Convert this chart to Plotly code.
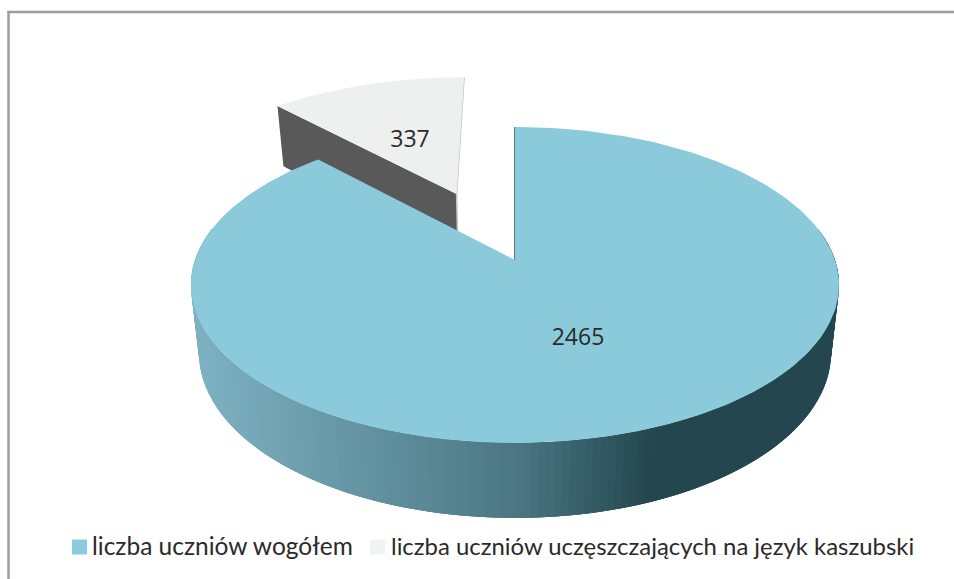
import numpy as np
import plotly.graph_objects as go

# Data
categories = ["liczba uczniów wogółem", "liczba uczniów uczęszczających na język kaszubski"]
values = [2465, 337]
value_labels = ["2465", "337"]

# Styles
TOP_BLUE = "#8ACADB"
LEGEND_BLUE = "#8ACBDD"
TOP_LIGHT = "#EEF0F0"
LEGEND_LIGHT = "#F1F2F4"
CUT_DARK = "#595959"
RIM_DARK = "#24474F"
FRAME = "#9D9D9F"
TEXT = "#2B2A29"

# 3D pie projection (perspective onto the page, in page pixels)
CX, CY = 515.0, 260.0
SX, SY = 320.0, 154.0
K = 0.158
DEPTH = 67.0
BOTTOM_SCALE = 0.975
EXPLODE = 0.50
EXPLODE_TILT = np.radians(-1.4)


def project(u, v, lower=False):
    u, v = np.asarray(u, float), np.asarray(v, float)
    w = 1 + K * v
    s = BOTTOM_SCALE if lower else 1.0
    x = CX + s * SX * u / w
    y = CY - s * SY * v / w + (DEPTH / w if lower else 0.0)
    return x, y


def lerp_color(x):
    stops_x = [200, 350, 520, 655]
    stops = np.array([[0x7D, 0xB1, 0xC1], [0x66, 0x96, 0xA5], [0x4B, 0x77, 0x83], [0x24, 0x47, 0x4F]])
    rgb = [int(round(np.interp(x, stops_x, stops[:, i]))) for i in range(3)]
    return "rgb({},{},{})".format(*rgb)


total = sum(values)
blue_sweep = 2 * np.pi * values[0] / total
small_sweep = 2 * np.pi * values[1] / total

fig = go.Figure()


def poly(xs, ys, color, line=0.0):
    fig.add_trace(go.Scatter(
        x=list(xs), y=list(ys), mode="lines", fill="toself", fillcolor=color,
        line=dict(color=color, width=line), hoverinfo="skip", showlegend=False))


# Exploded small slice
mid = blue_sweep + small_sweep / 2 + EXPLODE_TILT
du, dv = EXPLODE * np.sin(mid), EXPLODE * np.cos(mid)
a_left, a_right = blue_sweep, 2 * np.pi
lc_u, lc_v = du + np.sin(a_left), dv + np.cos(a_left)
rc_u, rc_v = du + np.sin(a_right), dv + np.cos(a_right)

# cut face of the small slice
xa, ya = project([lc_u, du], [lc_v, dv])
xb, yb = project([du, lc_u], [dv, lc_v], lower=True)
poly(np.r_[xa, xb], np.r_[ya, yb], CUT_DARK)

# right edge of the small slice
xr, yr = project([rc_u, du], [rc_v, dv])
xrl, yrl = project([du], [dv], lower=True)
fig.add_trace(go.Scatter(x=np.r_[xr, xrl], y=np.r_[yr, yrl], mode="lines",
                         line=dict(color="#C4C6C6", width=1.5), hoverinfo="skip", showlegend=False))

# top of the small slice
th = np.linspace(a_left, a_right, 60)
xt, yt = project(np.r_[du, du + np.sin(th)], np.r_[dv, dv + np.cos(th)])
poly(xt, yt, TOP_LIGHT)

# Rim of the large slice: overlapping shaded strips across the front
edges = np.radians(np.linspace(78, 282, 171))
for i in range(len(edges) - 1):
    ts = edges[i:i + 4]
    x0, y0 = project(np.sin(ts), np.cos(ts))
    x1, y1 = project(np.sin(ts[::-1]), np.cos(ts[::-1]), lower=True)
    xs, ys = np.r_[x0, x1], np.r_[y0, y1]
    c_x = project(np.sin(edges[i]), np.cos(edges[i]))[0]
    poly(xs, ys, lerp_color(float(c_x)))

# cut edge at twelve o'clock
xc, yc = project([0, 0], [1, 0])
fig.add_trace(go.Scatter(x=xc, y=yc, mode="lines", line=dict(color=RIM_DARK, width=1.5),
                         hoverinfo="skip", showlegend=False))

# top of the large slice
th = np.linspace(0, blue_sweep, 300)
xt, yt = project(np.r_[0, np.sin(th), 0], np.r_[0, np.cos(th), 0])
poly(xt, yt, TOP_BLUE)

# Data labels
lab_x, lab_y = [578, 410], [339, 141]
fig.add_trace(go.Scatter(
    x=lab_x, y=lab_y, mode="text", text=value_labels,
    textfont=dict(family="Open Sans", size=23, color=TEXT),
    hoverinfo="skip", showlegend=False))

# Legend
leg_x = [79.5, 377.5]
txt_x = [92, 391]
txt_sizes = [24.5, 23.9]
for lx, tx, ts_, name, col in zip(leg_x, txt_x, txt_sizes, categories, [LEGEND_BLUE, LEGEND_LIGHT]):
    fig.add_trace(go.Scatter(
        x=[lx], y=[547], mode="markers",
        marker=dict(symbol="square", size=15, color=col, line=dict(width=0)),
        hoverinfo="skip", showlegend=False))
    fig.add_trace(go.Scatter(
        x=[tx], y=[549], mode="text", text=[name], textposition="middle right",
        textfont=dict(family="Lato", size=ts_, color=TEXT),
        hoverinfo="skip", showlegend=False))

fig.update_layout(
    width=954, height=579, margin=dict(l=0, r=0, t=0, b=0),
    paper_bgcolor="white", plot_bgcolor="white", showlegend=False,
    xaxis=dict(range=[0, 954], visible=False, fixedrange=True),
    yaxis=dict(range=[579, 0], visible=False, fixedrange=True),
    shapes=[
        dict(type="line", xref="x", yref="y", x0=7.5, x1=954, y0=12, y1=12, line=dict(color=FRAME, width=2.5)),
        dict(type="line", xref="x", yref="y", x0=8.5, x1=8.5, y0=11, y1=579, line=dict(color=FRAME, width=2.5)),
    ],
)
fig.write_html("out.html", config=dict(displayModeBar=False),
               post_script="document.body.style.margin='0';document.body.style.overflow='hidden';")
